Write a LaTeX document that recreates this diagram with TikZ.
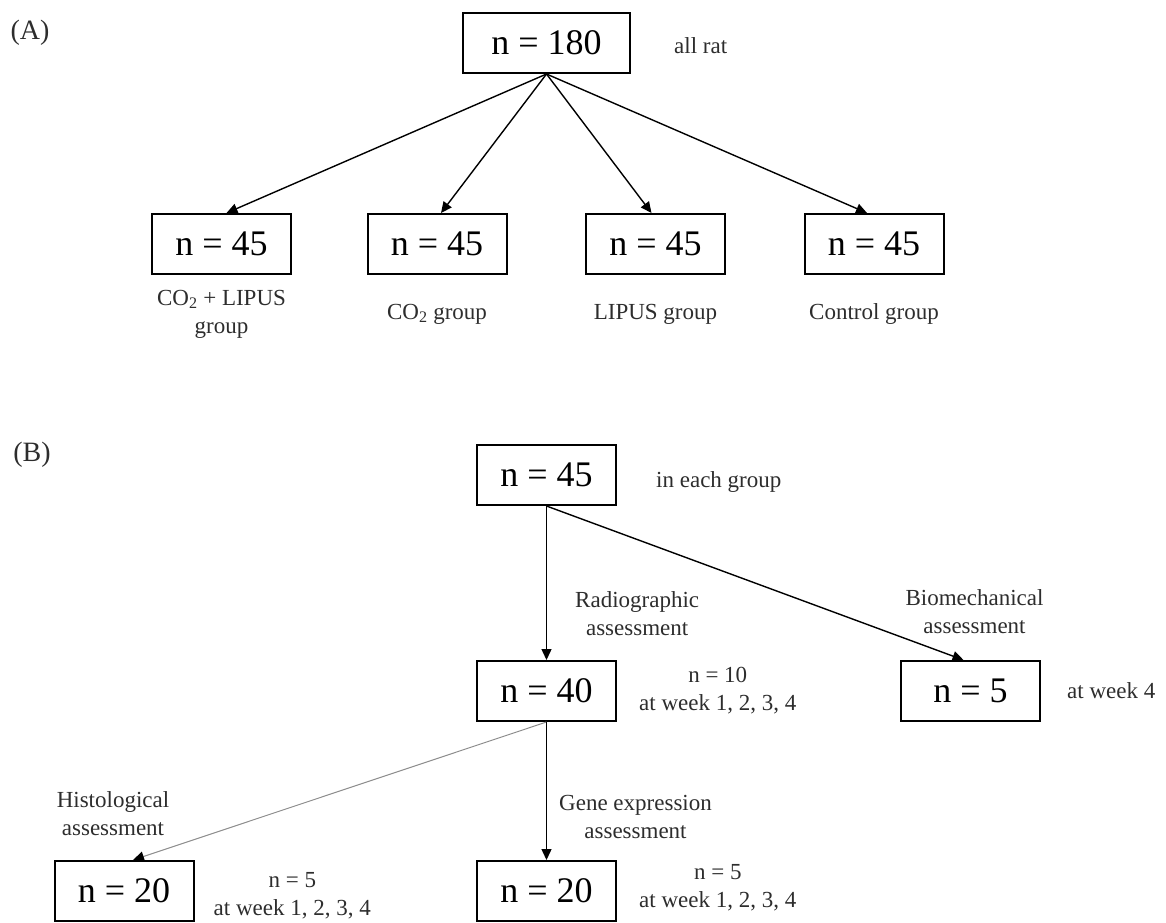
\documentclass[tikz,border=0pt]{standalone}
\usepackage{fontspec}
\setmainfont{Liberation Serif}
\usetikzlibrary{positioning,arrows.meta}
\definecolor{mytext}{RGB}{45,45,45}
\definecolor{mygray}{RGB}{140,140,140}

\begin{document}
\begin{tikzpicture}[x=1pt,y=-1pt,node distance=22pt,
countb/.style={
  draw=black,
  line width=2pt,
  minimum width=139pt,
  minimum height=60pt,
  inner sep=0pt,
  font=\fontsize{36}{40}\selectfont},
notel/.style={
  inner sep=0pt,
  align=center,
  text=mytext,
  font=\fontsize{23}{28}\selectfont},
panel/.style={notel,font=\fontsize{28}{32}\selectfont},
arr/.style={line width=1.4pt,-{Triangle[width=10pt,length=11pt]}},
greyarr/.style={line width=1pt,draw=mygray,-{Triangle[width=10pt,length=11pt,color=black]}},
]
\useasboundingbox (0,0) rectangle (1166,922);
\node[panel] (pA) at (30,33) {(A)};
\node[countb,minimum width=167pt] (all) at (546.5,43) {n = 180};
\node[notel,right=43pt of all,yshift=-3pt] (allt) {all rat};
\node[countb] (g1) at (221.5,244) {n = 45};
\node[countb] (g2) at (437,244) {n = 45};
\node[countb] (g3) at (655.5,244) {n = 45};
\node[countb] (g4) at (874,244) {n = 45};
\node[notel] (g1t) at ([yshift=-70pt]g1.center) {CO\textsubscript{2} + LIPUS\\group};
\node[notel] (g2t) at ([yshift=-70pt]g2.center) {CO\textsubscript{2} group};
\node[notel] (g3t) at ([yshift=-70pt]g3.center) {LIPUS group};
\node[notel] (g4t) at ([yshift=-70pt]g4.center) {Control group};
\foreach \g/\s in {g1/5,g2/4,g3/-4,g4/-7}
  \draw[arr] (all.south) -- ([xshift=\s pt]\g.north);

\node[panel] (pB) at (32,455) {(B)};
\node[countb] (b45) at (546.5,475) {n = 45};
\node[notel,right=39pt of b45,yshift=-7pt] (b45t) {in each group};
\node[countb] (b40) at (546.5,691) {n = 40};
\node[notel,right=of b40] (b40t) {n = 10\\at week 1, 2, 3, 4};
\node[countb] (b5) at (970.5,691) {n = 5};
\node[notel,right=26pt of b5] (b5t) {at week 4};
\node[notel,above=26pt of b5,xshift=4pt] (b5l) {Biomechanical\\assessment};
\node[countb] (h20) at (124,891) {n = 20};
\node[notel,right=19pt of h20,yshift=-5pt] (h20t) {n = 5\\at week 1, 2, 3, 4};
\node[notel,above=24pt of h20,xshift=-11pt] (h20l) {Histological\\assessment};
\node[countb] (e20) at (546.5,891) {n = 20};
\node[notel,right=of e20,yshift=3pt] (e20t) {n = 5\\at week 1, 2, 3, 4};
\draw[arr] (b45) -- node[notel,right=28pt,pos=0.7] {Radiographic\\assessment} (b40);
\draw[arr] (b45.south) -- ([xshift=-7pt]b5.north);
\draw[greyarr] (b40.south) -- ([xshift=9pt]h20.north);
\draw[arr] (b40) -- node[notel,right=12pt,pos=0.69] {Gene expression\\assessment} (e20);
\end{tikzpicture}
\end{document}
